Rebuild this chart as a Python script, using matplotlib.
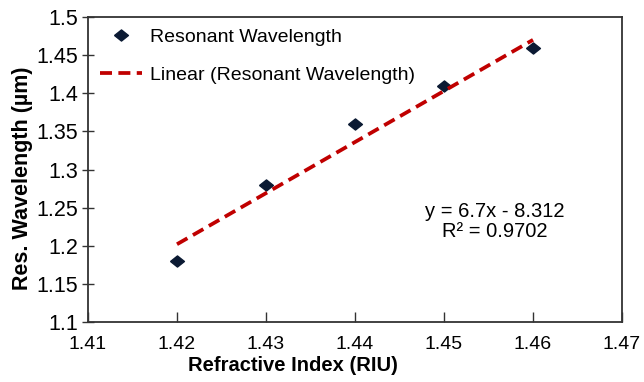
import matplotlib.pyplot as plt
import numpy as np

plt.rcParams['font.family'] = ['Liberation Sans', 'DejaVu Sans']

# measured resonant wavelength vs refractive index
riu = [1.42, 1.43, 1.44, 1.45, 1.46]
wavelength = [1.18, 1.28, 1.36, 1.41, 1.46]

# linear trendline as reported
slope = 6.7
intercept = -8.312
r_squared = 0.9702

xticks = [1.41, 1.42, 1.43, 1.44, 1.45, 1.46, 1.47]
yticks = [1.1, 1.15, 1.2, 1.25, 1.3, 1.35, 1.4, 1.45, 1.5]

fig = plt.figure(figsize=(6.44, 3.82), dpi=100)
ax = fig.add_axes([88 / 644, 1 - 322 / 382, 534 / 644, 305 / 382])

# slightly flattened diamond
diamond = [(-1, 0), (0, 0.8), (1, 0), (0, -0.8), (-1, 0)]
ax.plot(riu, wavelength, linestyle='none', marker=diamond, markersize=10,
        markerfacecolor='#0b1a33', markeredgecolor='#0b1a33',
        label='Resonant Wavelength')

fit_x = np.array([riu[0], riu[-1]])
ax.plot(fit_x, slope * fit_x + intercept, color='#c00000', linestyle=(0, (3.2, 1.7)),
        linewidth=2.7, label='Linear (Resonant Wavelength)')

ax.set_xlim(1.41, 1.47)
ax.set_ylim(1.1, 1.5)
ax.set_xticks(xticks)
ax.set_yticks(yticks)
ax.set_xticklabels(['%.2f' % v for v in xticks])
ax.set_yticklabels(['%g' % v for v in yticks])

ax.tick_params(axis='x', direction='in', length=7, width=1, labelsize=14, pad=10, colors='#333333',
               labelcolor='black')
ax.tick_params(axis='y', direction='inout', length=8, width=1, labelsize=15.5, pad=3, colors='#333333',
               labelcolor='black')
for side in ax.spines.values():
    side.set_color('#333333')
    side.set_linewidth(1.3)

ax.set_xlabel('Refractive Index (RIU)', fontsize=14.5, fontweight='bold')
ax.xaxis.set_label_coords((293 - 88) / 534, -0.11)
ax.set_ylabel('Res. Wavelength (\u00b5m)', fontsize=15.5, fontweight='bold')
ax.yaxis.set_label_coords(-0.103, 0.47)

ax.legend(loc='upper left', frameon=False, fontsize=14, handlelength=2.2,
          borderaxespad=0.2, labelspacing=1.05, handletextpad=0.4)

ax.text(1.4557, 1.232, 'y = 6.7x - 8.312\nR\u00b2 = 0.9702', ha='center', va='center',
        fontsize=14.5, linespacing=1.05)

fig.savefig('out.png', dpi=100)
